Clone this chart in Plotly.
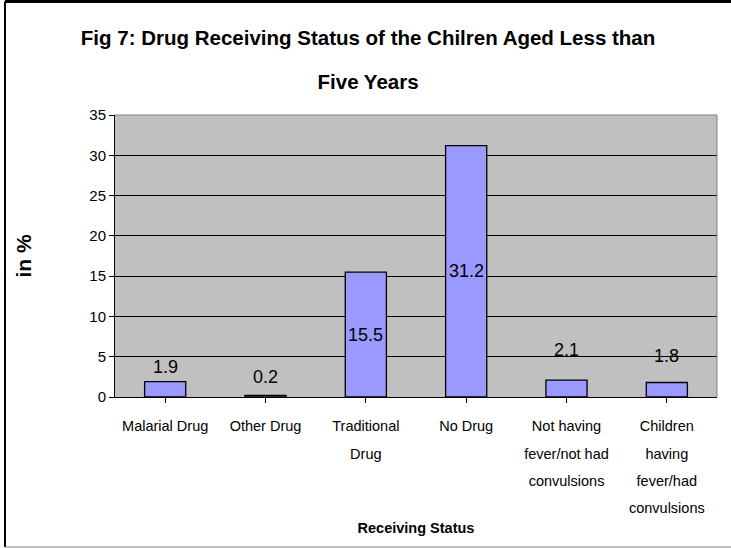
import plotly.graph_objects as go

categories = ["Malarial Drug", "Other Drug", "Traditional<br>Drug", "No Drug",
              "Not having<br>fever/not had<br>convulsions",
              "Children<br>having<br>fever/had<br>convulsions"]
values = [1.9, 0.2, 15.5, 31.2, 2.1, 1.8]
y_ticks = [0, 5, 10, 15, 20, 25, 30, 35]

title_lines = ["Fig 7: Drug Receiving Status of the Chilren Aged Less than", "Five Years"]
x_title = "Receiving Status"
y_title = "in %"

# styles
FONT = "Liberation Sans, Arial, sans-serif"
label_inside = [False, False, True, True, False, False]
label_shift = [15, 18, 0, 0, 30, 27]

cat_ids = list(range(len(categories)))

def span(t, size):
    return "<br>".join(f'<span style="font-size:{size}px">{p}</span>' for p in t.split("<br>"))

fig = go.Figure()
fig.add_trace(go.Bar(
    x=cat_ids, y=values,
    marker=dict(color="#9999FF", line=dict(color="black", width=1.3)),
    width=0.41, hoverinfo="skip", showlegend=False,
))

annotations = []
for i, v in enumerate(values):
    if label_inside[i]:
        annotations.append(dict(x=i, y=v / 2, text=f"{v:.1f}", showarrow=False,
                                xref="x", yref="y", yanchor="middle",
                                font=dict(family=FONT, size=18, color="black")))
    else:
        annotations.append(dict(x=i, y=v, text=f"{v:.1f}", showarrow=False,
                                xref="x", yref="y", yanchor="middle", yshift=label_shift[i],
                                font=dict(family=FONT, size=18, color="black")))

title_text = span("<br>".join(title_lines), 20.5)

fig.update_layout(
    width=731, height=548,
    margin=dict(l=115, r=14, t=115, b=151),
    paper_bgcolor="white", plot_bgcolor="#C0C0C0",
    font=dict(family=FONT, color="black"),
    title=dict(text="<b>" + title_text + "</b>", x=0.5035, xanchor="center",
               y=1 - 45 / 548, yanchor="middle",
               font=dict(family=FONT, size=34, color="black")),
    xaxis=dict(
        range=[-0.5, len(categories) - 0.5],
        tickmode="array", tickvals=cat_ids,
        ticktext=[span(c, 14.5) for c in categories],
        tickfont=dict(family=FONT, size=21, color="black"),
        ticklabelstandoff=3,
        showline=True, linecolor="black", linewidth=1,
        ticks="outside", ticklen=5, tickcolor="black", tickson="boundaries",
        showgrid=False, zeroline=False,
        title=dict(text="<b>" + x_title + "</b>", standoff=7,
                   font=dict(family=FONT, size=14.5, color="black")),
    ),
    yaxis=dict(
        range=[0, 35], tickmode="array", tickvals=y_ticks,
        tickfont=dict(family=FONT, size=15, color="black"),
        showline=True, linecolor="black", linewidth=1,
        ticks="outside", ticklen=5, tickcolor="black",
        showgrid=True, gridcolor="black", gridwidth=1, zeroline=False,
        title=dict(text="<b>" + y_title + "</b>", standoff=51,
                   font=dict(family=FONT, size=21, color="black")),
    ),
    annotations=annotations,
    shapes=[
        dict(type="line", xref="paper", yref="paper", x0=0, x1=1, y0=1, y1=1,
             line=dict(color="#808080", width=1), layer="above"),
        dict(type="line", xref="paper", yref="paper", x0=1, x1=1, y0=0, y1=1,
             line=dict(color="#808080", width=1), layer="above"),
        # outer chart frame
        dict(type="line", xref="paper", yref="paper", x0=(5 - 115) / 602, x1=(731 - 115) / 602,
             y0=(397 - 1.5) / 282, y1=(397 - 1.5) / 282, line=dict(color="black", width=3)),
        dict(type="line", xref="paper", yref="paper", x0=(5 - 115) / 602, x1=(5 - 115) / 602,
             y0=(397 - 1.5) / 282, y1=(397 - 547) / 282, line=dict(color="black", width=2)),
        dict(type="line", xref="paper", yref="paper", x0=(5 - 115) / 602, x1=(731 - 115) / 602,
             y0=(397 - 547) / 282, y1=(397 - 547) / 282, line=dict(color="#808080", width=1)),
    ],
)

fig.write_html("out.html")
